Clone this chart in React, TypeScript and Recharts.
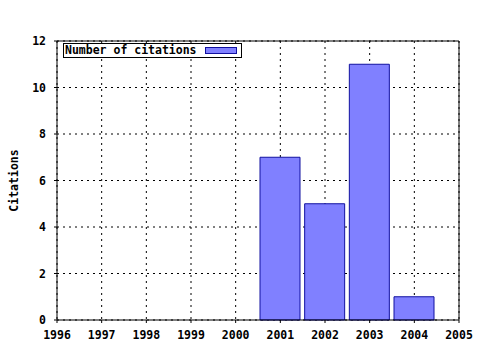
import {
  BarChart,
  Bar,
  XAxis,
  YAxis,
  CartesianGrid,
  Legend,
} from "recharts";

const years = [2001, 2002, 2003, 2004];
const citations = [7, 5, 11, 1];
const yearTicks = [1996, 1997, 1998, 1999, 2000, 2001, 2002, 2003, 2004, 2005];
const countTicks = [0, 2, 4, 6, 8, 10, 12];
const seriesName = "Number of citations";
const yTitle = "Citations";

// quarter-year minor ticks, like gnuplot's mxtics
const minorTicks = yearTicks.flatMap((y) => [y, y + 0.25, y + 0.5, y + 0.75]).filter((t) => t <= 2005);

const data = years.map((year, i) => ({ year, count: citations[i] }));

const FONT = "'DejaVu Sans Mono', monospace";
const tickStyle = { fill: "#000", fontSize: 11.5, fontFamily: FONT, fontWeight: "bold" };

const LegendBox = () => (
  <div
    style={{
      width: 177,
      height: 13,
      border: "1px solid #000",
      background: "#fff",
      position: "relative",
      fontFamily: FONT,
      fontWeight: "bold",
      fontSize: 11.5,
      lineHeight: "13px",
    }}
  >
    <span style={{ position: "absolute", left: 1, top: 0 }}>{seriesName}</span>
    <span
      style={{
        position: "absolute",
        left: 141,
        top: 3,
        width: 30,
        height: 5,
        background: "#8080ff",
        border: "1px solid #1010a0",
      }}
    />
  </div>
);

const YTitle = (props: any) => {
  const vb = props.viewBox;
  const cy = vb.y + vb.height / 2;
  return (
    <text
      x={18}
      y={cy}
      transform={`rotate(-90, 18, ${cy})`}
      textAnchor="middle"
      fontFamily={FONT}
      fontWeight="bold"
      fontSize={11.5}
      fill="#000"
    >
      {yTitle}
    </text>
  );
};

export default function App() {
  return (
    <div style={{ position: "absolute", left: 0, top: 0, width: 480, height: 350, background: "#fff" }}>
      <BarChart
        width={480}
        height={350}
        data={data}
        margin={{ top: 41, right: 21, left: 0, bottom: 0 }}
      >
        <CartesianGrid
          xAxisId="b"
          yAxisId="l"
          stroke="#000"
          strokeDasharray="2 4"
        />
        <XAxis
          xAxisId="b"
          dataKey="year"
          type="number"
          domain={[1996, 2005]}
          ticks={yearTicks}
          interval={0}
          height={30}
          stroke="#000"
          tickSize={3}
          tickMargin={8}
          tick={tickStyle}
        />
        <XAxis
          xAxisId="bm"
          dataKey="year"
          type="number"
          domain={[1996, 2005]}
          ticks={minorTicks}
          interval={0}
          mirror
          height={1}
          axisLine={false}
          stroke="#000"
          tickSize={2}
          tick={false}
        />
        <XAxis
          xAxisId="t"
          dataKey="year"
          type="number"
          domain={[1996, 2005]}
          ticks={minorTicks}
          interval={0}
          orientation="top"
          mirror
          height={1}
          stroke="#000"
          tickSize={3}
          tick={false}
        />
        <YAxis
          yAxisId="l"
          type="number"
          domain={[0, 12]}
          ticks={countTicks}
          interval={0}
          width={57}
          stroke="#000"
          tickSize={3}
          tickMargin={8}
          tick={tickStyle}
          label={<YTitle />}
        />
        <YAxis
          yAxisId="lm"
          type="number"
          domain={[0, 12]}
          ticks={countTicks}
          interval={0}
          mirror
          width={1}
          axisLine={false}
          stroke="#000"
          tickSize={3}
          tick={false}
        />
        <YAxis
          yAxisId="r"
          orientation="right"
          type="number"
          domain={[0, 12]}
          mirror
          width={1}
          stroke="#000"
          tickLine={false}
          tick={false}
        />
        <Legend
          layout="horizontal"
          verticalAlign="middle"
          align="center"
          wrapperStyle={{ left: 63, top: 43, width: "auto" }}
          content={() => <LegendBox />}
        />
        <Bar
          xAxisId="b"
          yAxisId="l"
          dataKey="count"
          name={seriesName}
          barSize={40}
          fill="#8080ff"
          stroke="#1010a0"
          strokeWidth={1}
          isAnimationActive={false}
        />
      </BarChart>
    </div>
  );
}
